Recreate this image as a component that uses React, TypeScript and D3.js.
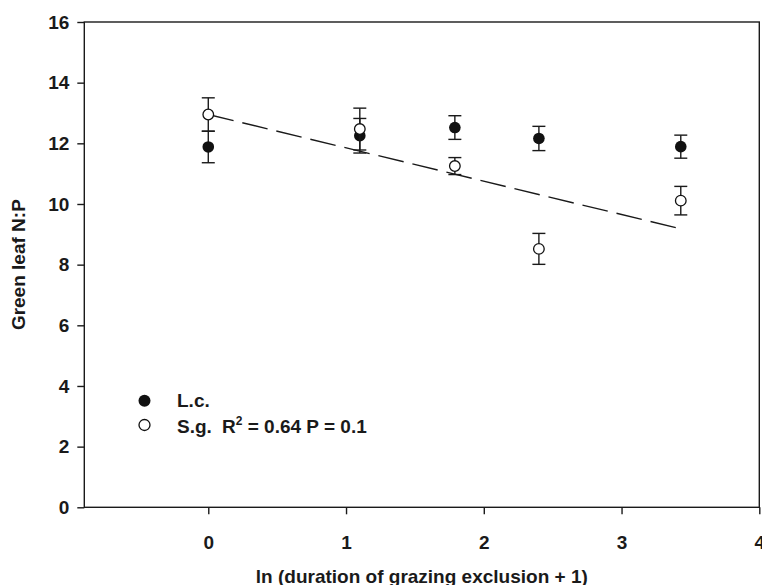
import { useEffect, useRef } from "react";
import * as d3 from "d3";

// ln(duration of grazing exclusion + 1)
const xVals = [0, 1.1, 1.79, 2.4, 3.43];

// L.c. (filled circles)
const lcMean = [11.88, 12.25, 12.52, 12.16, 11.89];
const lcErr = [0.52, 0.57, 0.39, 0.4, 0.38];

// S.g. (open circles)
const sgMean = [12.95, 12.47, 11.25, 8.52, 10.11];
const sgErr = [0.55, 0.69, 0.28, 0.51, 0.47];

// regression line for S.g.
const fitX = [0, 3.43];
const fitY = [12.95, 9.18];

const xTicks = [0, 1, 2, 3, 4];
const yTicks = [0, 2, 4, 6, 8, 10, 12, 14, 16];

const FONT = "'Liberation Sans', Arial, Helvetica, sans-serif";

const App = () => {
  const ref = useRef<SVGSVGElement | null>(null);

  useEffect(() => {
    const el = ref.current;
    if (!el) return;
    d3.select(el).selectAll("*").remove();

    const W = 762, H = 585;
    const left = 84.3, right = 759.3, top = 22, bottom = 507.3;
    const ink = "#1a1a1a";

    const svg = d3.select(el).attr("width", W).attr("height", H);

    const x = d3.scaleLinear().domain([-0.9, 4]).range([left, right]);
    const y = d3.scaleLinear().domain([0, 16]).range([bottom, top]);

    // ── Frame ────────────────────────────────────────────────────
    svg.append("rect")
      .attr("x", left).attr("y", top)
      .attr("width", right - left).attr("height", bottom - top)
      .attr("fill", "none")
      .attr("stroke", ink)
      .attr("stroke-width", 1.4);

    // ── Axes ─────────────────────────────────────────────────────
    const xG = svg.append("g")
      .attr("transform", `translate(0,${bottom})`)
      .call(d3.axisBottom(x).tickValues(xTicks).tickSize(7).tickPadding(21).tickFormat(d3.format("d")));
    xG.select(".domain").remove();
    xG.selectAll("line").attr("stroke", ink).attr("stroke-width", 1.4);
    xG.selectAll("text")
      .attr("fill", ink)
      .style("font-family", FONT)
      .style("font-size", "19px")
      .style("font-weight", "700");

    const yG = svg.append("g")
      .attr("transform", `translate(${left},0)`)
      .call(d3.axisLeft(y).tickValues(yTicks).tickSize(7).tickPadding(8).tickFormat(d3.format("d")));
    yG.select(".domain").remove();
    yG.selectAll("line").attr("stroke", ink).attr("stroke-width", 1.4);
    yG.selectAll("text")
      .attr("fill", ink)
      .style("font-family", FONT)
      .style("font-size", "19px")
      .style("font-weight", "700");

    // ── Axis titles ──────────────────────────────────────────────
    svg.append("text")
      .attr("x", (left + right) / 2)
      .attr("y", 582.5)
      .attr("text-anchor", "middle")
      .attr("fill", ink)
      .style("font-family", FONT)
      .style("font-size", "19px")
      .style("font-weight", "700")
      .text("ln (duration of grazing exclusion + 1)");

    svg.append("text")
      .attr("transform", `translate(25,${(top + bottom) / 2}) rotate(-90)`)
      .attr("text-anchor", "middle")
      .attr("fill", ink)
      .style("font-family", FONT)
      .style("font-size", "19px")
      .style("font-weight", "700")
      .text("Green leaf N:P");

    // ── Regression line ──────────────────────────────────────────
    const line = d3.line<number>().x((_, i) => x(fitX[i])).y(d => y(d));
    svg.append("path")
      .attr("d", line(fitY))
      .attr("fill", "none")
      .attr("stroke", ink)
      .attr("stroke-width", 1.4)
      .attr("stroke-dasharray", "26,9");

    // ── Error bars + points ──────────────────────────────────────
    const capW = 6.5;
    const drawSeries = (means: number[], errs: number[], filled: boolean) => {
      const g = svg.append("g");
      means.forEach((m, i) => {
        const cx = x(xVals[i]);
        const y0 = y(m - errs[i]), y1 = y(m + errs[i]);
        g.append("line")
          .attr("x1", cx).attr("x2", cx).attr("y1", y0).attr("y2", y1)
          .attr("stroke", ink).attr("stroke-width", 1.4);
        [y0, y1].forEach(yy => {
          g.append("line")
            .attr("x1", cx - capW).attr("x2", cx + capW).attr("y1", yy).attr("y2", yy)
            .attr("stroke", ink).attr("stroke-width", 1.4);
        });
      });
      g.selectAll("circle")
        .data(means)
        .enter()
        .append("circle")
        .attr("cx", (_, i) => x(xVals[i]))
        .attr("cy", d => y(d))
        .attr("r", filled ? 5.8 : 5.3)
        .attr("fill", filled ? "#111" : "#fff")
        .attr("stroke", "#111")
        .attr("stroke-width", filled ? 0 : 1.3);
    };
    drawSeries(lcMean, lcErr, true);
    drawSeries(sgMean, sgErr, false);

    // ── Legend ───────────────────────────────────────────────────
    svg.append("circle")
      .attr("cx", 144.5).attr("cy", 400.7).attr("r", 6)
      .attr("fill", "#111");
    svg.append("circle")
      .attr("cx", 144.5).attr("cy", 425).attr("r", 5.5)
      .attr("fill", "#fff").attr("stroke", "#111").attr("stroke-width", 1.3);

    const legTxt = (yy: number) => svg.append("text")
      .attr("x", 177).attr("y", yy)
      .attr("fill", ink)
      .style("font-family", FONT)
      .style("font-size", "19px")
      .style("font-weight", "700");
    legTxt(407).text("L.c.");
    legTxt(432.5).text("S.g.");

    const r2 = svg.append("text")
      .attr("x", 222).attr("y", 432.5)
      .attr("fill", ink)
      .style("font-family", FONT)
      .style("font-size", "19px")
      .style("font-weight", "700");
    r2.append("tspan").text("R");
    r2.append("tspan").attr("dy", -8).style("font-size", "12px").text("2");
    r2.append("tspan").attr("dy", 8).text(" = 0.64 P = 0.1");

    return () => { d3.select(el).selectAll("*").remove(); };
  }, []);

  return (
    <svg
      ref={ref}
      style={{ position: "absolute", left: 0, top: 0, display: "block", background: "#fff" }}
    />
  );
};

export default App;
